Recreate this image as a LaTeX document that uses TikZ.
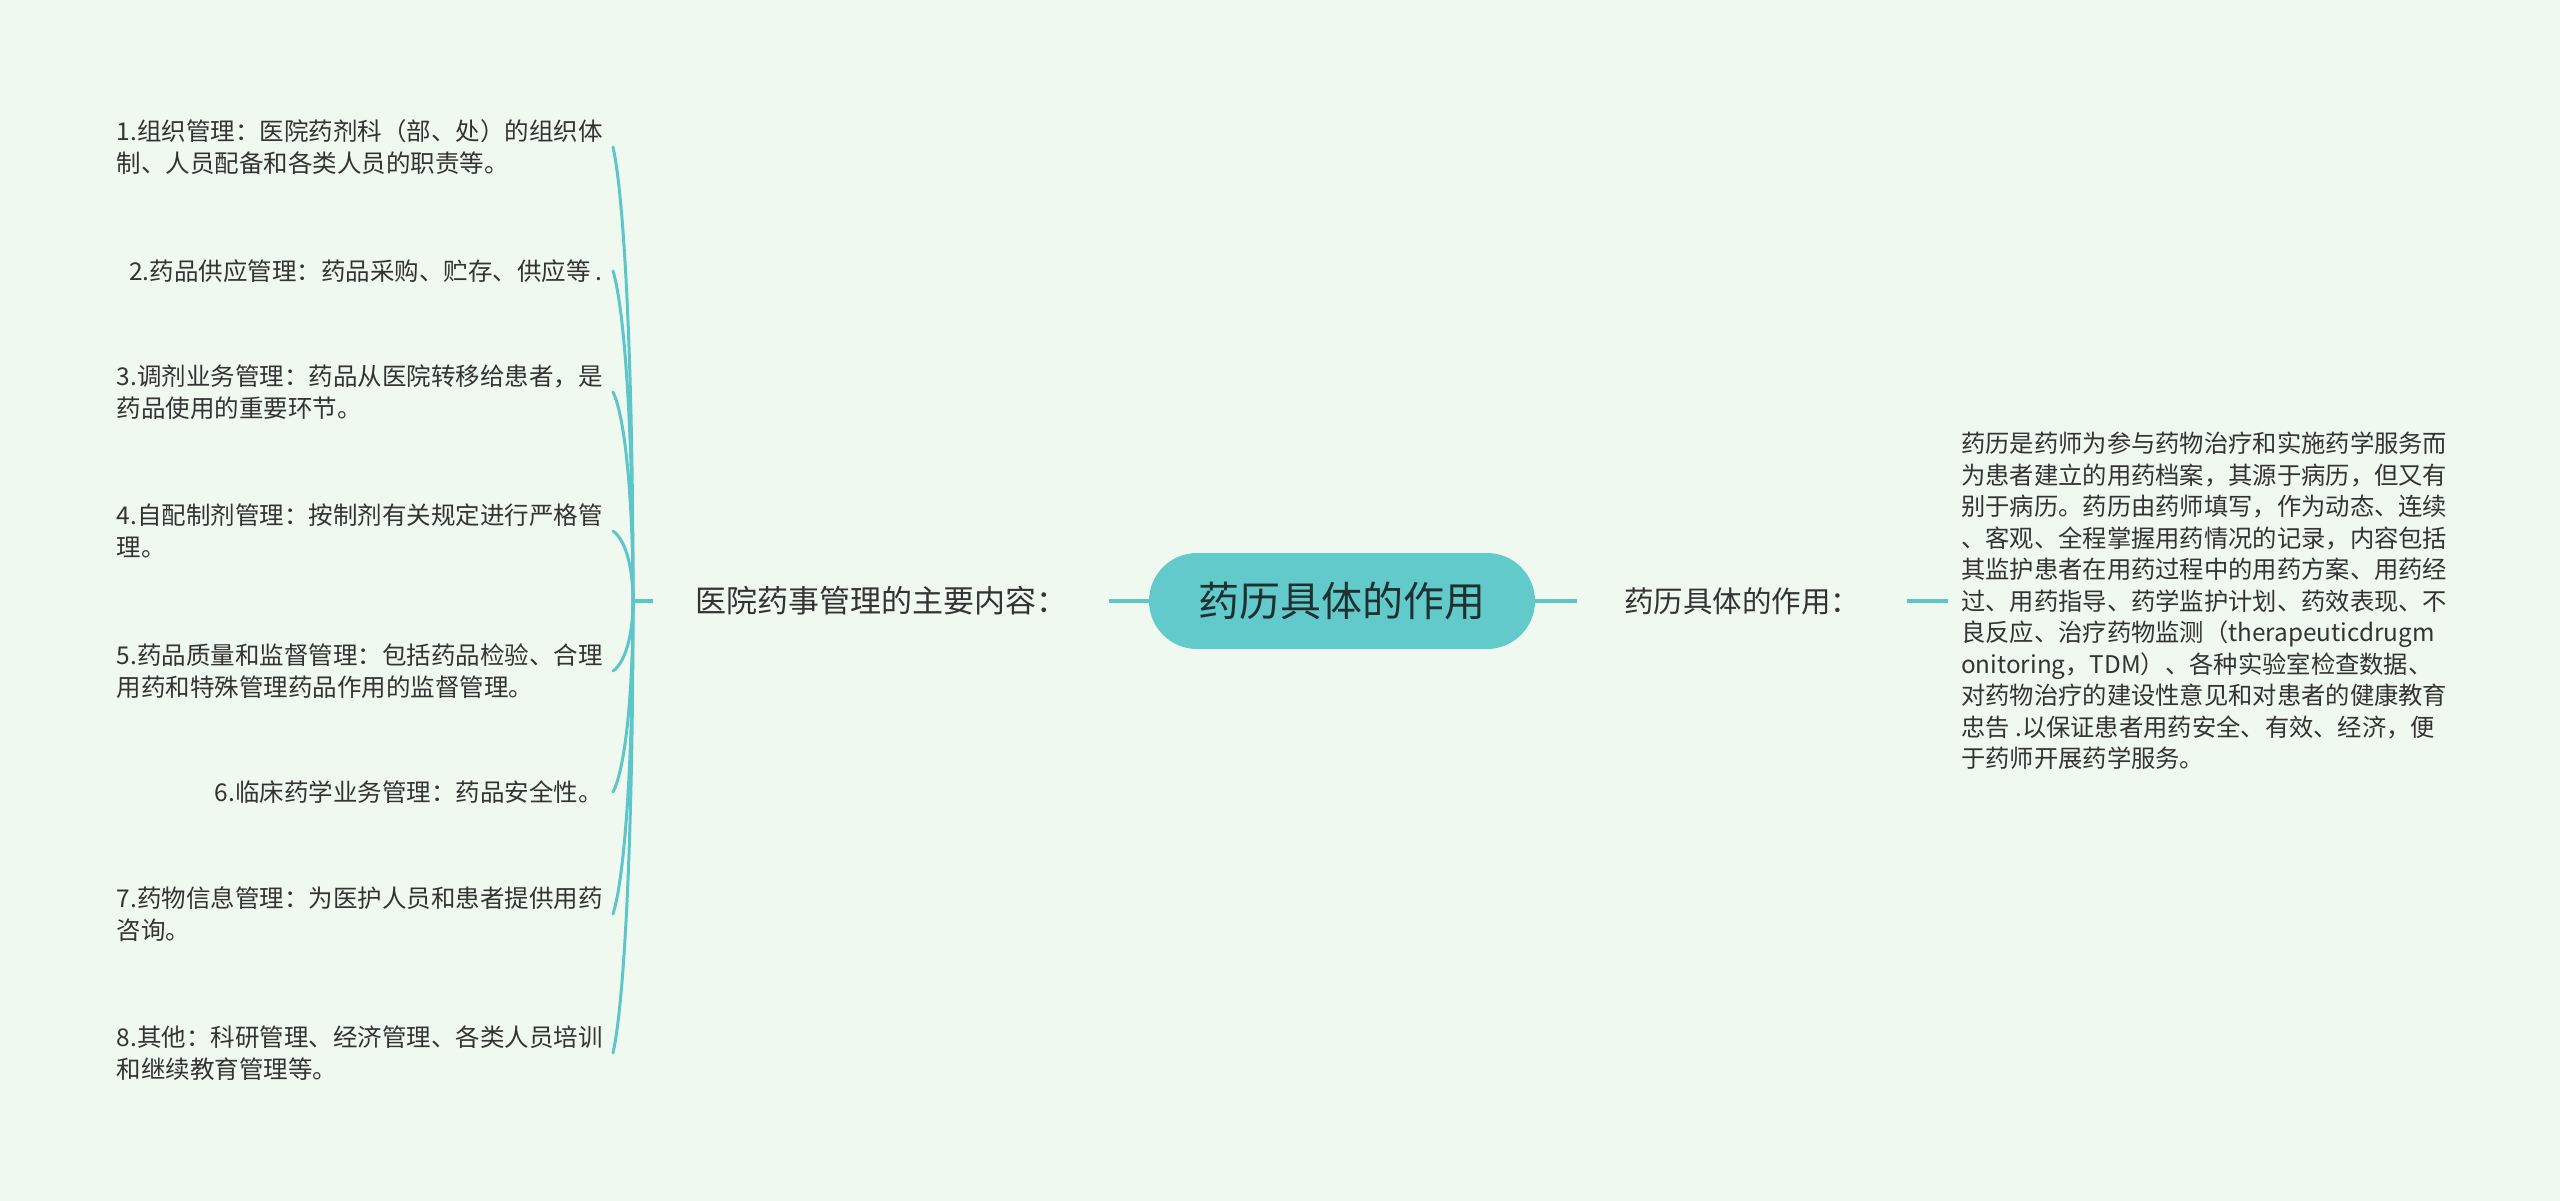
\documentclass[tikz,border=0pt]{standalone}
\usepackage{fontspec}
\setmainfont{Noto Sans CJK SC}
\definecolor{bgc}{HTML}{F0F9EF}
\definecolor{tealline}{HTML}{5EC5C8}
\definecolor{cfill}{HTML}{63CACC}
\definecolor{txtc}{HTML}{333333}
\definecolor{roottxt}{HTML}{1F3030}
\begin{document}
\begin{tikzpicture}[x=1pt,y=-1pt,
  mmline/.style={draw=tealline,line width=3.5pt},
  mmcurve/.style={draw=tealline,line width=3pt,line cap=round},
  mmroot/.style={fill=cfill,rounded corners=48pt,minimum width=386pt,minimum height=96pt,inner sep=0pt,text=roottxt,font=\fontsize{41}{48}\selectfont},
  mmlabel/.style={inner xsep=47pt,inner ysep=4pt,text=txtc,font=\fontsize{29.5}{36}\selectfont},
  mmleaf/.style={anchor=east,align=left,inner xsep=10pt,inner ysep=2pt,text=txtc,font=\fontsize{24.5}{31.8}\selectfont},
  mmtext/.style={anchor=west,align=left,inner xsep=13pt,inner ysep=2pt,text=txtc,font=\fontsize{24.3}{31.5}\selectfont}]
\useasboundingbox (0,0) rectangle (2560,1201);
\fill[bgc] (0,0) rectangle (2560,1201);

\node[mmroot] (root) at (1342,601) {药历具体的作用};
\node[mmlabel,inner xsep=42pt,font=\fontsize{31}{36}\selectfont] (L) at (881,601) {医院药事管理的主要内容：};
\node[mmlabel] (R) at (1742,601) {药历具体的作用：};
\coordinate (hub) at (633,601);

\node[mmtext] (T) at (1948,601) {药历是药师为参与药物治疗和实施药学服务而\\
为患者建立的用药档案，其源于病历，但又有\\
别于病历。药历由药师填写，作为动态、连续\\
、客观、全程掌握用药情况的记录，内容包括\\
其监护患者在用药过程中的用药方案、用药经\\
过、用药指导、药学监护计划、药效表现、不\\
良反应、治疗药物监测（therapeuticdrugm\\
onitoring，TDM）、各种实验室检查数据、\\
对药物治疗的建设性意见和对患者的健康教育\\
忠告 .以保证患者用药安全、有效、经济，便\\
于药师开展药学服务。};

\node[mmleaf] (l1) at (613,147) {1.组织管理：医院药剂科（部、处）的组织体\\制、人员配备和各类人员的职责等。};
\node[mmleaf] (l2) at (613,271) {2.药品供应管理：药品采购、贮存、供应等 .};
\node[mmleaf] (l3) at (613,392) {3.调剂业务管理：药品从医院转移给患者，是\\药品使用的重要环节。};
\node[mmleaf] (l4) at (613,531) {4.自配制剂管理：按制剂有关规定进行严格管\\理。};
\node[mmleaf] (l5) at (613,671) {5.药品质量和监督管理：包括药品检验、合理\\用药和特殊管理药品作用的监督管理。};
\node[mmleaf] (l6) at (613,792) {6.临床药学业务管理：药品安全性。};
\node[mmleaf] (l7) at (613,914) {7.药物信息管理：为医护人员和患者提供用药\\咨询。};
\node[mmleaf] (l8) at (613,1053) {8.其他：科研管理、经济管理、各类人员培训\\和继续教育管理等。};

\draw[mmline] (root.west) -- (L.east);
\draw[mmline] (L.west) -- (hub);
\draw[mmline] (root.east) -- (R.west);
\draw[mmline] (R.east) -- (T.west);

\foreach \n/\y in {l1/147,l2/271,l3/392,l4/531,l5/671,l6/792,l7/914,l8/1053}{
  \pgfmathsetmacro\ya{601+0.5*(\y-601)}
  \pgfmathsetmacro\yb{\y-0.12*(\y-601)}
  \draw[mmcurve] (hub) .. controls (633,\ya) and (625,\yb) .. (\n.east);
}
\end{tikzpicture}
\end{document}
